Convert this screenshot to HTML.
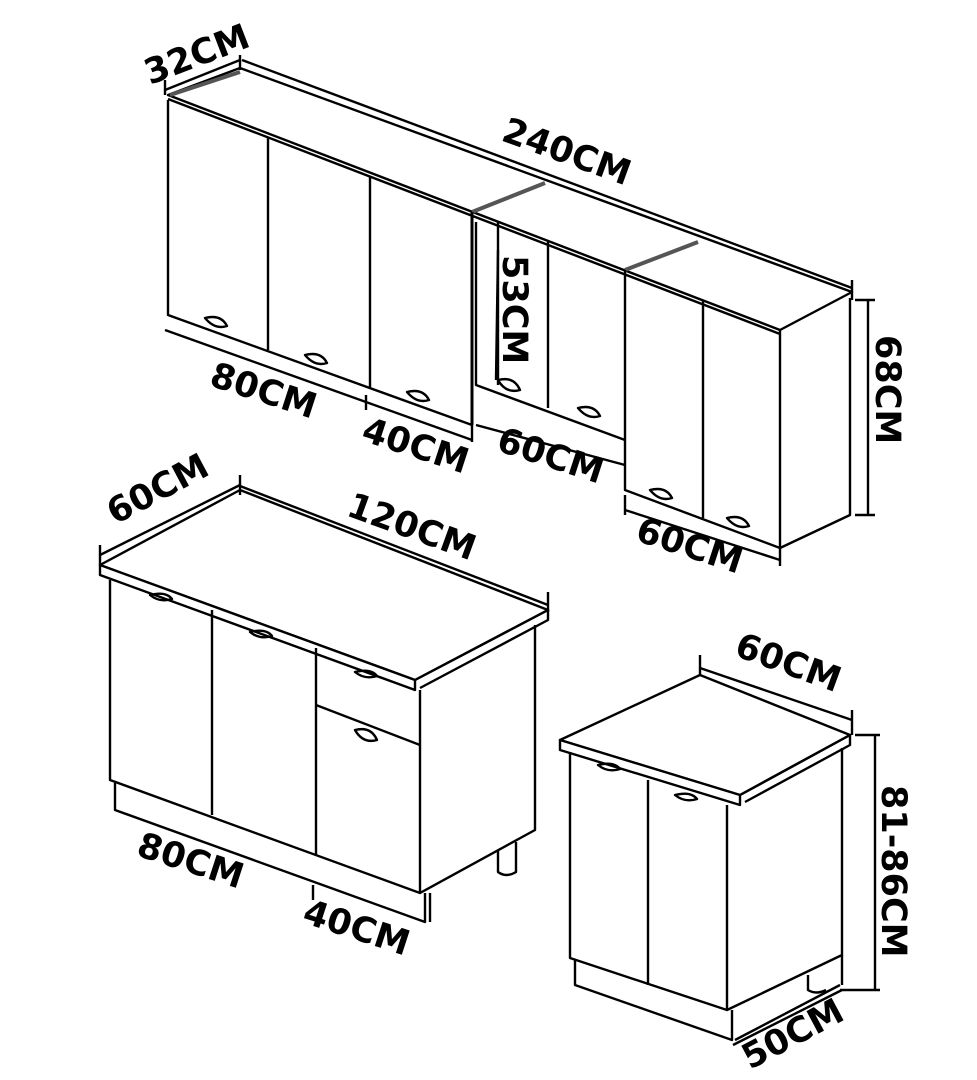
<!DOCTYPE html>
<html><head><meta charset="utf-8"><style>
html,body{margin:0;padding:0;background:#fff;}
svg{display:block}
text{font-family:"DejaVu Sans","Liberation Sans",sans-serif;font-weight:bold;font-size:35px;fill:#000}
</style></head><body>
<svg width="977" height="1080" viewBox="0 0 977 1080" xmlns="http://www.w3.org/2000/svg">
<g fill="none" stroke="#000" stroke-width="2.4" stroke-linejoin="round">
<!-- UPPER CABINETS -->
<polygon points="168,95 240,68 852,292 780,330" fill="#fff"/>
<line x1="168" y1="99" x2="780" y2="334"/>
<line x1="170" y1="95" x2="240" y2="72" stroke-width="4" stroke="#555"/>
<line x1="472" y1="212" x2="545" y2="183" stroke-width="4" stroke="#555"/>
<line x1="625" y1="270" x2="698" y2="242" stroke-width="4" stroke="#555"/>
<polyline points="168,100 168,315 472,425"/>
<line x1="268" y1="138" x2="268" y2="350"/>
<line x1="370" y1="176" x2="370" y2="388"/>
<line x1="472" y1="212" x2="472" y2="425" stroke-width="3"/>
<line x1="498" y1="222" x2="498" y2="385"/>
<polyline points="476,222 476,385 625,440"/>
<line x1="548" y1="242" x2="548" y2="408"/>
<polyline points="625,270 625,490 780,548"/>
<line x1="703" y1="300" x2="703" y2="518"/>
<polyline points="780,330 780,548 850,515 850,298"/>
<path d="M205,318 q10,12 22,8 q-6,-12 -22,-8z"/>
<path d="M305,355 q10,12 22,8 q-6,-12 -22,-8z"/>
<path d="M407,392 q10,12 22,8 q-6,-12 -22,-8z"/>
<path d="M498,380 q8,14 22,10 q-6,-14 -22,-10z"/>
<path d="M578,408 q10,12 22,8 q-6,-12 -22,-8z"/>
<path d="M650,490 q10,12 22,8 q-6,-12 -22,-8z"/>
<path d="M727,518 q10,12 22,8 q-6,-12 -22,-8z"/>
<line x1="165" y1="90" x2="240" y2="60"/>
<line x1="165" y1="80" x2="165" y2="95"/>
<line x1="240" y1="55" x2="240" y2="70"/>
<line x1="242" y1="60" x2="852" y2="288"/>
<line x1="852" y1="280" x2="852" y2="300"/>
<line x1="855" y1="300" x2="875" y2="300"/>
<line x1="868" y1="300" x2="868" y2="515"/>
<line x1="855" y1="515" x2="875" y2="515"/>
<line x1="498" y1="250" x2="496" y2="380"/>
<line x1="165" y1="330" x2="472" y2="440"/>
<line x1="366" y1="395" x2="366" y2="410"/>
<line x1="472" y1="425" x2="472" y2="442"/>
<line x1="476" y1="425" x2="625" y2="465"/>
<line x1="625" y1="510" x2="780" y2="560"/>
<line x1="625" y1="495" x2="625" y2="515"/>
<line x1="780" y1="548" x2="780" y2="566"/>

<!-- LOWER LEFT -->
<polygon points="100,565 240,490 548,610 415,680" fill="#fff"/>
<polygon points="100,565 415,680 415,690 100,575" fill="#fff"/>
<polyline points="415,680 548,610 548,620 420,688"/>
<polyline points="110,580 110,780 420,893"/>
<line x1="212" y1="610" x2="212" y2="815"/>
<line x1="316" y1="648" x2="316" y2="855"/>
<line x1="316" y1="705" x2="420" y2="745"/>
<polyline points="420,690 420,893 535,830 535,625"/>
<polyline points="115,783 115,810 425,922 425,893"/>
<line x1="430" y1="893" x2="430" y2="922"/>
<path d="M498,850 v22 q8,6 18,0 v-30"/>
<path d="M150,595 q10,8 22,4 q-6,-8 -22,-4z"/>
<path d="M250,632 q10,8 22,4 q-6,-8 -22,-4z"/>
<path d="M355,672 q10,8 22,4 q-6,-8 -22,-4z"/>
<path d="M355,730 q8,14 22,10 q-6,-14 -22,-10z"/>
<line x1="100" y1="555" x2="240" y2="485"/>
<line x1="100" y1="545" x2="100" y2="565"/>
<line x1="240" y1="475" x2="240" y2="495"/>
<line x1="240" y1="486" x2="548" y2="605"/>
<line x1="548" y1="592" x2="548" y2="612"/>
<line x1="313" y1="885" x2="313" y2="900"/>

<!-- LOWER RIGHT -->
<polygon points="560,740 700,675 850,735 740,795" fill="#fff"/>
<polygon points="560,740 740,795 740,805 560,750" fill="#fff"/>
<polyline points="740,795 850,735 850,745 745,802"/>
<polyline points="570,752 570,958 727,1010"/>
<line x1="648" y1="780" x2="648" y2="985"/>
<polyline points="727,805 727,1010 842,955 842,748"/>
<polyline points="575,960 575,985 732,1040 732,1010"/>
<line x1="842" y1="955" x2="842" y2="985"/>
<line x1="735" y1="1040" x2="840" y2="985"/>
<path d="M808,975 v15 q8,5 18,0"/>
<path d="M598,765 q10,8 22,4 q-6,-8 -22,-4z"/>
<path d="M675,795 q10,8 22,4 q-6,-8 -22,-4z"/>
<line x1="700" y1="668" x2="852" y2="720"/>
<line x1="700" y1="655" x2="700" y2="675"/>
<line x1="852" y1="710" x2="852" y2="735"/>
<line x1="855" y1="735" x2="880" y2="735"/>
<line x1="875" y1="735" x2="875" y2="990"/>
<line x1="840" y1="990" x2="880" y2="990"/>
<line x1="733" y1="1045" x2="842" y2="990"/>
</g>
<text transform="translate(150,85) rotate(-21)">32CM</text>
<text transform="translate(500,140) rotate(20)">240CM</text>
<text transform="translate(503,255) rotate(90)">53CM</text>
<text transform="translate(876,335) rotate(90)">68CM</text>
<text transform="translate(208,385) rotate(18)">80CM</text>
<text transform="translate(360,440) rotate(18)">40CM</text>
<text transform="translate(495,450) rotate(18)">60CM</text>
<text transform="translate(634,540) rotate(18)">60CM</text>
<text transform="translate(115,525) rotate(-28)">60CM</text>
<text transform="translate(345,515) rotate(20)">120CM</text>
<text transform="translate(135,855) rotate(18)">80CM</text>
<text transform="translate(301,922) rotate(18)">40CM</text>
<text transform="translate(733,655) rotate(20)">60CM</text>
<text transform="translate(882,785) rotate(90)">81-86CM</text>
<text transform="translate(750,1070) rotate(-28)">50CM</text>
</svg>
</body></html>
